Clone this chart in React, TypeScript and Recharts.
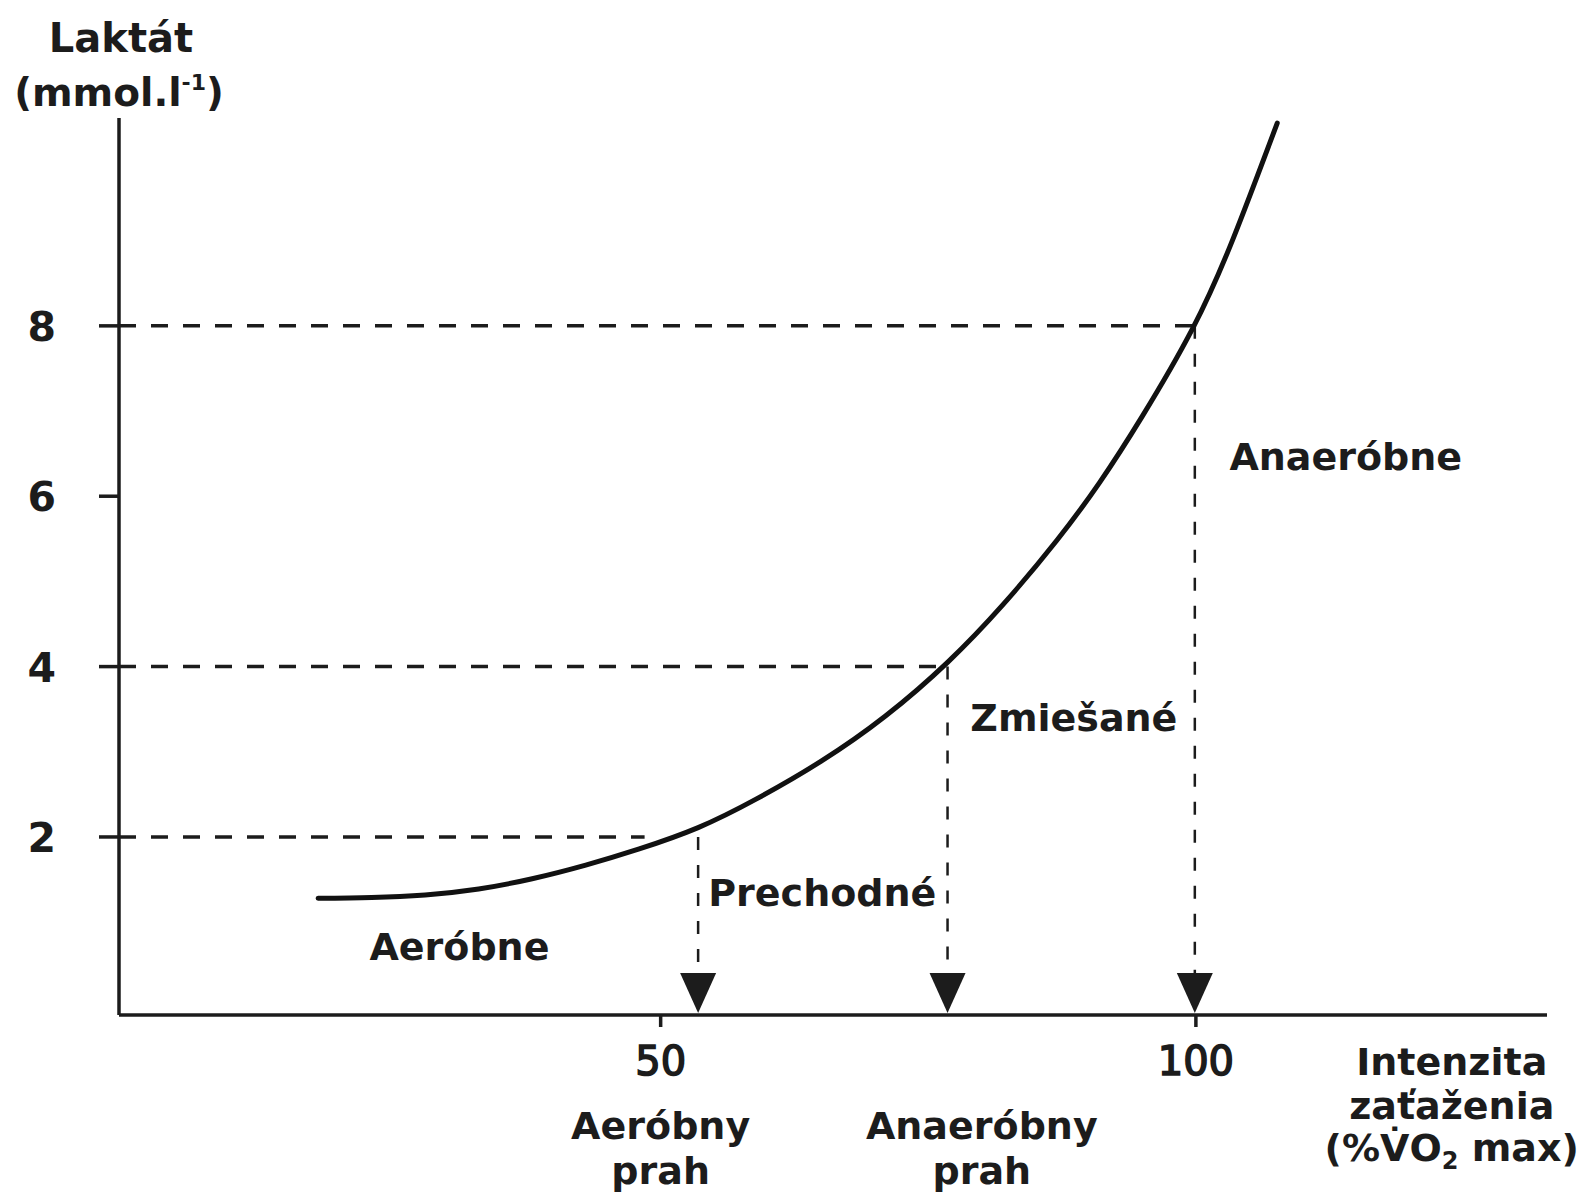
import { LineChart, Line, XAxis, YAxis, ReferenceLine, ReferenceDot } from 'recharts';

// Lactate curve (% VO2 max -> mmol/l)
const intensity = [18, 23, 28, 33, 38, 43, 48, 53.5, 59, 65, 71, 76.8, 82, 87, 91, 95, 99.7, 103.5, 107.6];
const lactate = [1.28, 1.29, 1.32, 1.39, 1.51, 1.67, 1.86, 2.11, 2.45, 2.89, 3.42, 4.05, 4.73, 5.48, 6.16, 6.94, 7.97, 9.03, 10.38];

// thresholds: lactate level, where its dashed line stops, and where the arrow drops
const thresholdLevels = [2, 4, 8];
const thresholdLineEnd = [48.5, 76.8, 99.7];
const thresholdX = [53.5, 76.8, 99.9];

const yTicks = [2, 4, 6, 8];
const xTicks = [50, 100];

const curve = intensity.map((x, i) => ({ intensity: x, lactate: lactate[i] }));

const X_DOMAIN: [number, number] = [-0.6, 132.8];
const Y_DOMAIN: [number, number] = [-0.09, 10.44];

const FONT = "'DejaVu Sans', Verdana, sans-serif";
const INK = '#1c1c1c';

const YTick = ({ x, y, payload }: any) => (
  <text x={x} y={y} dy={15} textAnchor="end" fontFamily={FONT} fontWeight="bold" fontSize={41} fill={INK}>
    {payload.value}
  </text>
);

const XTick = ({ x, y, payload }: any) => (
  <text x={x} y={y} dy={42} textAnchor="middle" fontFamily={FONT} fontSize={40} fill={INK} stroke={INK} strokeWidth={1.6}>
    {payload.value}
  </text>
);

// text anchored on a data point, baseline at the point
const label = (lines: string[], dy = 0, gap = 45) => (p: any) => (
  <text x={p.cx} y={p.cy + dy} textAnchor="middle" fontFamily={FONT} fontWeight="bold" fontSize={38} fill={INK}>
    {lines.map((t, i) => (
      <tspan key={i} x={p.cx} dy={i === 0 ? 0 : gap}>{t}</tspan>
    ))}
  </text>
);

const arrow = (p: any) => (
  <polygon points={`${p.cx - 18},${p.cy - 42} ${p.cx + 18},${p.cy - 42} ${p.cx},${p.cy - 2}`} fill={INK} />
);

export default function App() {
  return (
    <div style={{ background: '#fff' }}>
      <style>{'body{margin:0}'}</style>
      <LineChart width={1583} height={1196} data={curve} margin={{ top: 118, right: 36, bottom: 121, left: 0 }}>
        <XAxis
          dataKey="intensity"
          type="number"
          domain={X_DOMAIN}
          ticks={xTicks}
          tick={<XTick />}
          tickSize={12}
          tickMargin={6}
          height={60}
          stroke={INK}
          strokeWidth={3.5}
          allowDataOverflow
        />
        <YAxis
          type="number"
          domain={Y_DOMAIN}
          ticks={yTicks}
          tick={<YTick />}
          tickSize={20}
          tickMargin={43}
          width={119}
          stroke={INK}
          strokeWidth={3.5}
          allowDataOverflow
        />

        {thresholdLevels.map((lv, i) => (
          <ReferenceLine
            key={'h' + i}
            segment={[{ x: X_DOMAIN[0], y: lv }, { x: thresholdLineEnd[i], y: lv }]}
            stroke={INK}
            strokeWidth={3.5}
            strokeDasharray="17 15"
          />
        ))}
        {thresholdLevels.map((lv, i) => (
          <ReferenceLine
            key={'v' + i}
            segment={[{ x: thresholdX[i], y: lv }, { x: thresholdX[i], y: 0.4 }]}
            stroke={INK}
            strokeWidth={2.5}
            strokeDasharray="13 15"
          />
        ))}
        {thresholdX.map((x, i) => (
          <ReferenceDot key={'a' + i} x={x} y={Y_DOMAIN[0]} r={0} shape={arrow} ifOverflow="visible" />
        ))}

        <Line
          type="natural"
          dataKey="lactate"
          stroke="#111"
          strokeWidth={5}
          strokeLinecap="round"
          dot={false}
          isAnimationActive={false}
        />

        {/* zone labels */}
        <ReferenceDot x={31.2} y={0.56} r={0} shape={label(['Aeróbne'])} ifOverflow="visible" />
        <ReferenceDot x={65.1} y={1.19} r={0} shape={label(['Prechodné'])} ifOverflow="visible" />
        <ReferenceDot x={88.6} y={3.24} r={0} shape={label(['Zmiešané'])} ifOverflow="visible" />
        <ReferenceDot x={114} y={6.31} r={0} shape={label(['Anaeróbne'])} ifOverflow="visible" />

        {/* threshold names under the axis */}
        <ReferenceDot x={50} y={Y_DOMAIN[0]} r={0} shape={label(['Aeróbny', 'prah'], 124, 45)} ifOverflow="visible" />
        <ReferenceDot x={80} y={Y_DOMAIN[0]} r={0} shape={label(['Anaeróbny', 'prah'], 124, 45)} ifOverflow="visible" />

        {/* axis titles */}
        <ReferenceDot
          x={123.9}
          y={Y_DOMAIN[0]}
          r={0}
          ifOverflow="visible"
          shape={(p: any) => (
            <text x={p.cx} y={p.cy + 60} textAnchor="middle" fontFamily={FONT} fontWeight="bold" fontSize={38} fill={INK}>
              <tspan x={p.cx}>Intenzita</tspan>
              <tspan x={p.cx} dy={44}>zaťaženia</tspan>
              <tspan x={p.cx} dy={42}>(%V̇O</tspan>
              <tspan fontSize={24} dy={8}>2</tspan>
              <tspan dy={-8}> max)</tspan>
            </text>
          )}
        />
        <ReferenceDot
          x={X_DOMAIN[0]}
          y={Y_DOMAIN[1]}
          r={0}
          ifOverflow="visible"
          shape={(p: any) => (
            <text x={p.cx} y={p.cy} textAnchor="middle" fontFamily={FONT} fontWeight="bold" fontSize={39} fill={INK}>
              <tspan x={p.cx + 2} dy={-66} fontSize={40}>Laktát</tspan>
              <tspan x={p.cx} dy={54}>(mmol.l</tspan>
              <tspan fontSize={22} dy={-16}>-1</tspan>
              <tspan dy={16}>)</tspan>
            </text>
          )}
        />
      </LineChart>
    </div>
  );
}
